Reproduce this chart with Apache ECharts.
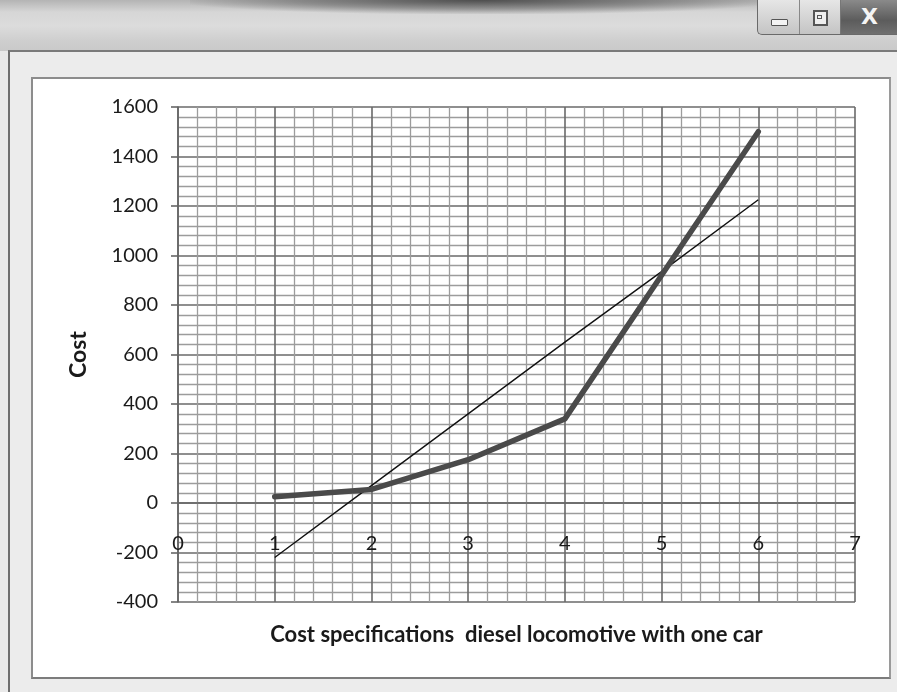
<!DOCTYPE html>
<html>
<head>
<meta charset="utf-8">
<script src="https://cdn.jsdelivr.net/npm/echarts@6/dist/echarts.min.js"></script>
<style>
html,body{margin:0;padding:0;width:897px;height:692px;overflow:hidden;background:#e9e9e9;}
#titlebar{position:absolute;left:0;top:0;width:897px;height:51px;
 background:linear-gradient(to bottom,#b4b4b4 0px,#d6d6d6 12px,#dcdcdc 26px,#cfcfcf 40px,#c9c9c9 51px);}
#streak{position:absolute;left:190px;top:0;width:580px;height:14px;
 background:radial-gradient(ellipse at 50% 0%,rgba(60,60,60,0.85) 0%,rgba(90,90,90,0.5) 45%,rgba(150,150,150,0) 75%);}
#buttons{position:absolute;left:757px;top:0;width:140px;height:34px;border-left:1px solid #6a6a6a;border-bottom:1px solid #6a6a6a;border-bottom-left-radius:5px;overflow:hidden;background:linear-gradient(to bottom,#e6e6e6,#c4c4c4);}
#bmin{position:absolute;left:0;top:0;width:41px;height:34px;border-right:1px solid #888;}
#bmin div{position:absolute;left:13px;top:19px;width:15px;height:5px;border:1px solid #555;background:#f4f4f4;border-radius:1px;}
#bres{position:absolute;left:42px;top:0;width:40px;height:34px;border-right:1px solid #777;}
#bres div{position:absolute;left:13px;top:10px;width:11px;height:12px;border:2px solid #555;background:#eee;}
#bres div div{left:2px;top:3px;width:3px;height:2px;border:1px solid #555;}
#bclose{position:absolute;left:83px;top:0;width:57px;height:34px;background:linear-gradient(to bottom,#8a8a8a,#5c5c5c 60%,#707070);color:#f4f4f4;font:bold 22px "DejaVu Sans",sans-serif;text-align:center;line-height:34px;}
#content{position:absolute;left:8px;top:50px;width:889px;height:642px;border-top:2px solid #7a7a7a;border-left:2px solid #6e6e6e;background:#ececec;}
#whitebox{position:absolute;left:31px;top:77px;width:856px;height:598px;border:2px solid #8c8c8c;border-right-color:#9a9a9a;border-bottom-color:#7c7c7c;background:#ffffff;}
#chart{position:absolute;left:0;top:0;width:897px;height:692px;}
</style>
</head>
<body>
<div id="titlebar"></div>
<div id="streak"></div>
<div id="buttons">
 <div id="bmin"><div></div></div>
 <div id="bres"><div><div></div></div></div>
 <div id="bclose">X</div>
</div>
<div id="content"></div>
<div id="whitebox"></div>
<div id="chart"></div>
<script>
// ---- data ----
var xValues = [1, 2, 3, 4, 5, 6];
var costValues = [25, 55, 175, 340, 920, 1500];      // thick line
var trendValues = [-220, 70, 360, 650, 935, 1225];   // thin straight line
var xTicks = [0, 1, 2, 3, 4, 5, 6, 7];
var yTicks = [-400, -200, 0, 200, 400, 600, 800, 1000, 1200, 1400, 1600];
var yAxisTitle = 'Cost';
var xAxisTitle = 'Cost specifications  diesel locomotive with one car';

function pairs(xs, ys) { return xs.map(function (x, i) { return [x, ys[i]]; }); }

var labelFont = 'Lato';
var gridTop = 107, gridH = 495;
var yMin = yTicks[0], yMax = yTicks[yTicks.length - 1];
// distance from bottom of plot to the y = 0 line (where the horizontal axis sits)
var zeroOffset = gridH * (0 - yMin) / (yMax - yMin);

var chart = echarts.init(document.getElementById('chart'), null, { renderer: 'canvas' });
chart.setOption({
  backgroundColor: 'transparent',
  animation: false,
  grid: { left: 178, top: gridTop, width: 677, height: gridH, containLabel: false, outerBoundsMode: 'none' },
  xAxis: {
    type: 'value',
    min: xTicks[0], max: xTicks[xTicks.length - 1], interval: xTicks[1] - xTicks[0],
    offset: -zeroOffset,
    axisLine: { onZero: false, lineStyle: { color: '#666', width: 1.6 } },
    axisTick: { show: false },
    axisLabel: { margin: 31, color: '#1a1a1a', fontFamily: labelFont, fontSize: 20,
      formatter: function (v) { return String(v); } },
    splitLine: { show: true, lineStyle: { color: '#6a6a6a', width: 1.6 } },
    minorTick: { show: false, splitNumber: 5 },
    minorSplitLine: { show: true, lineStyle: { color: '#9c9c9c', width: 1.3 } },
    name: xAxisTitle, nameLocation: 'middle', nameGap: 121,
    nameTextStyle: { color: '#1a1a1a', fontFamily: labelFont, fontWeight: 'bold', fontSize: 22 }
  },
  yAxis: {
    type: 'value',
    min: yMin, max: yMax, interval: yTicks[1] - yTicks[0],
    axisLine: { show: true, onZero: false, lineStyle: { color: '#666', width: 1.6 } },
    axisTick: { show: true, inside: false, length: 7, lineStyle: { color: '#666', width: 1.6 } },
    axisLabel: { margin: 20, color: '#1a1a1a', fontFamily: labelFont, fontSize: 20,
      formatter: function (v) { return String(v); } },
    splitLine: { show: true, lineStyle: { color: '#6a6a6a', width: 1.6 } },
    minorTick: { show: false, splitNumber: 5 },
    minorSplitLine: { show: true, lineStyle: { color: '#9c9c9c', width: 1.3 } },
    name: yAxisTitle, nameLocation: 'middle', nameGap: 88, nameRotate: 90,
    nameTextStyle: { color: '#1a1a1a', fontFamily: labelFont, fontWeight: 'bold', fontSize: 23 }
  },
  series: [
    {
      type: 'line', data: pairs(xValues, trendValues), showSymbol: false, z: 3,
      lineStyle: { color: '#111', width: 1.4 }
    },
    {
      type: 'line', data: pairs(xValues, costValues), showSymbol: false, z: 4,
      lineStyle: { color: '#4a4a4a', width: 5.5, cap: 'round', join: 'round' }
    }
  ]
});
</script>
</body>
</html>
